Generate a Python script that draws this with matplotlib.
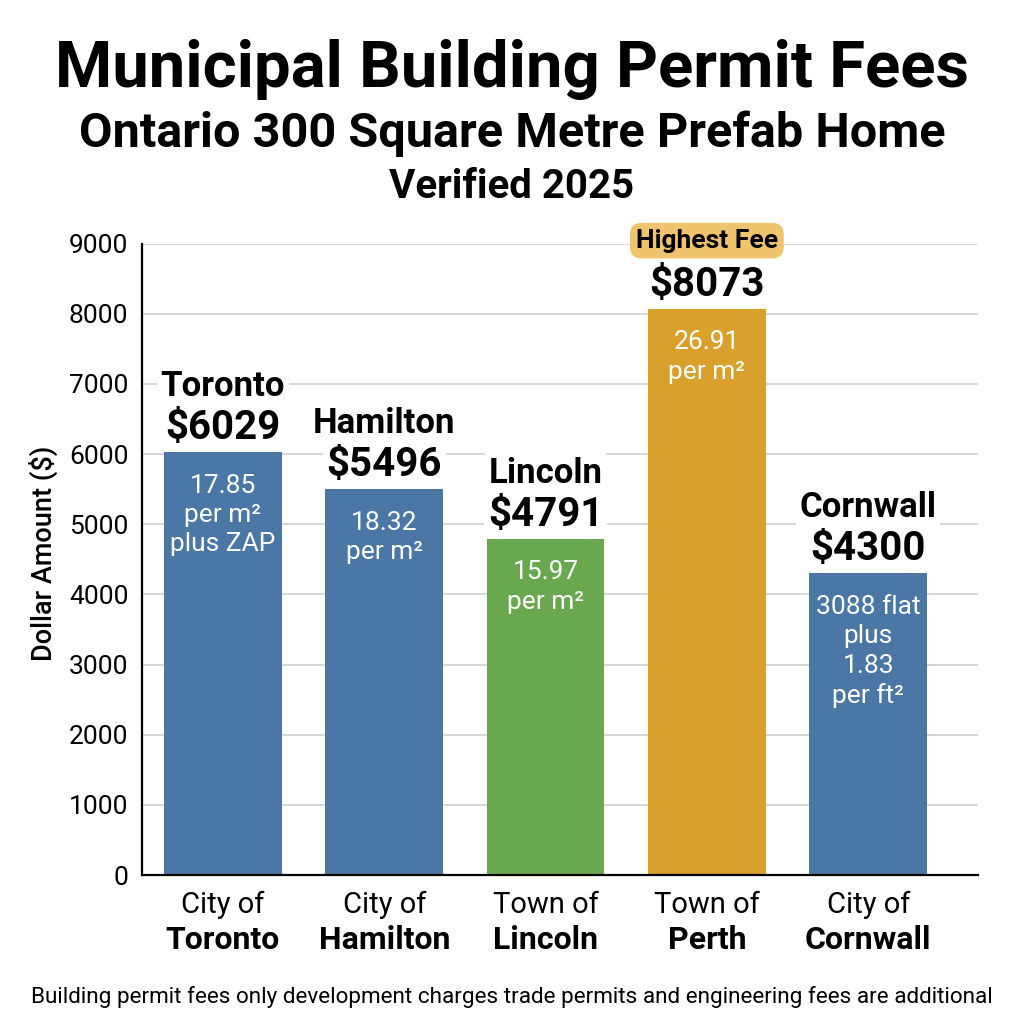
import matplotlib.pyplot as plt
import matplotlib.transforms as mtransforms

# data
kinds = ["City of", "City of", "Town of", "Town of", "City of"]
cities = ["Toronto", "Hamilton", "Lincoln", "Perth", "Cornwall"]
fees = [6029, 5496, 4791, 8073, 4300]
rate_notes = [
    "17.85\nper m²\nplus ZAP",
    "18.32\nper m²",
    "15.97\nper m²",
    "26.91\nper m²",
    "3088 flat\nplus\n1.83\nper ft²",
]
bar_colors = ["#4A77A5", "#4A77A5", "#6AA84F", "#D9A02C", "#4A77A5"]
yticks = [0, 1000, 2000, 3000, 4000, 5000, 6000, 7000, 8000, 9000]

plt.rcParams["font.family"] = ["Roboto", "DejaVu Sans"]

fig = plt.figure(figsize=(10.24, 10.24), dpi=100)
ax = fig.add_axes([0.139, 0.1455, 0.816, 0.6165])

x = list(range(len(cities)))
ax.bar(x, fees, width=0.73, color=bar_colors, zorder=2)

ax.set_xlim(-0.5, 4.68)
ax.set_ylim(0, 9000)
ax.set_yticks(yticks)
ax.set_yticklabels([str(v) for v in yticks], fontsize=19)
ax.tick_params(axis="y", length=0, pad=10)
ax.tick_params(axis="x", length=0)
ax.set_xticks(x)
ax.set_xticklabels([""] * len(x))
ax.grid(axis="y", color="#D0D0D0", lw=1.2, zorder=0)
ax.set_axisbelow(True)
for s in ["top", "right"]:
    ax.spines[s].set_visible(False)
for s in ["left", "bottom"]:
    ax.spines[s].set_color("black")
    ax.spines[s].set_linewidth(1.6)
ax.set_ylabel("Dollar Amount ($)", fontsize=19.5, fontweight="medium", labelpad=12)
ax.yaxis.set_label_coords(-0.101, 0.51)

top = max(fees)
for i, (city, fee, note) in enumerate(zip(cities, fees, rate_notes)):
    # value label above bar
    ax.annotate(f"${fee}", xy=(i, fee), xytext=(0, 9.5), textcoords="offset points",
                ha="center", va="baseline", fontsize=29, fontweight="bold", zorder=4,
                bbox=dict(boxstyle="square,pad=0.1", fc="white", ec="none"))
    if fee == top:
        ax.annotate("Highest Fee", xy=(i, fee), xytext=(0, 49), textcoords="offset points",
                    ha="center", va="center", fontsize=19, fontweight="bold", zorder=4,
                    bbox=dict(boxstyle="round,pad=0.22,rounding_size=0.45", fc="#F0C46C", ec="none"))
    else:
        ax.annotate(city, xy=(i, fee), xytext=(0, 40.5), textcoords="offset points",
                    ha="center", va="baseline", fontsize=25, fontweight="bold", zorder=4,
                    bbox=dict(boxstyle="square,pad=0.1", fc="white", ec="none"))
    # rate note inside bar
    ax.annotate(note, xy=(i, fee), xytext=(0, -15.5), textcoords="offset points",
                ha="center", va="top", fontsize=19, color="white", linespacing=1.28, zorder=3)

# two-line category labels
trans = mtransforms.blended_transform_factory(ax.transData, fig.transFigure)
for i, (kind, city) in enumerate(zip(kinds, cities)):
    ax.text(i, 1 - 905 / 1024, kind, transform=trans, ha="center", va="center", fontsize=21)
    ax.text(i, 1 - 940 / 1024, city, transform=trans, ha="center", va="center",
            fontsize=23, fontweight="bold")

fig.text(0.5, 1 - 70 / 1024, "Municipal Building Permit Fees", ha="center", va="center",
         fontsize=47, fontweight="bold")
fig.text(0.5, 1 - 134 / 1024, "Ontario 300 Square Metre Prefab Home", ha="center", va="center",
         fontsize=35, fontweight="bold")
fig.text(0.5, 1 - 187 / 1024, "Verified 2025", ha="center", va="center",
         fontsize=29, fontweight="bold")
fig.text(0.5, 1 - 997 / 1024,
         "Building permit fees only development charges trade permits and engineering fees are additional",
         ha="center", va="center", fontsize=16.2)

fig.savefig("out.png", dpi=100, facecolor="white")
